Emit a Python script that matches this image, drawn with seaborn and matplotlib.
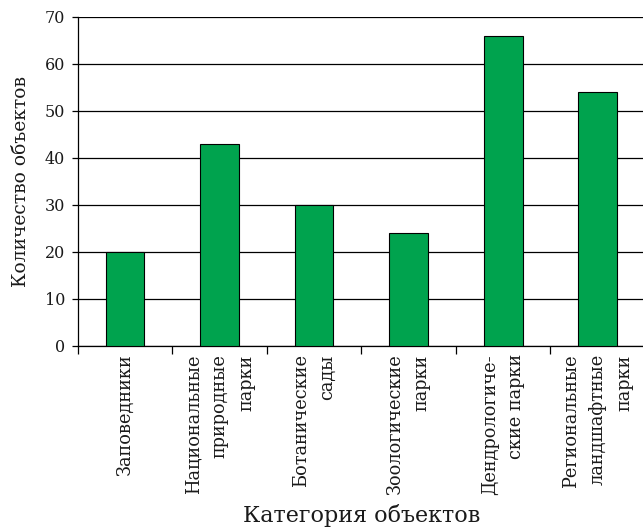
import matplotlib
matplotlib.use("Agg")
import matplotlib.pyplot as plt
from matplotlib.ticker import FixedLocator
import numpy as np
import seaborn as sns

# === data ===
CATEGORIES = [
    "Заповедники",
    "Национальные\nприродные\nпарки",
    "Ботанические\nсады",
    "Зоологические\nпарки",
    "Дендрологиче-\nские парки",
    "Региональные\nландшафтные\nпарки",
]
COUNTS = [20, 43, 30, 24, 66, 54]
Y_TICKS = [0, 10, 20, 30, 40, 50, 60, 70]

# === style ===
BAR_COLOR = "#00a34e"
TEXT_COLOR = "#1a1a1a"
FONT = ["DejaVu Serif"]

sns.set_theme(style="white")
plt.rcParams["font.family"] = FONT
plt.rcParams["text.color"] = TEXT_COLOR
plt.rcParams["axes.labelcolor"] = TEXT_COLOR
plt.rcParams["xtick.color"] = TEXT_COLOR
plt.rcParams["ytick.color"] = TEXT_COLOR

fig, ax = plt.subplots(figsize=(6.43, 5.28), dpi=100)
sns.barplot(x=CATEGORIES, y=COUNTS, color=BAR_COLOR, width=0.41,
            edgecolor="black", linewidth=0.8, saturation=1, ax=ax, zorder=3)

ax.set_ylim(0, 70)
ax.set_xlim(-0.5, 5.5)
ax.set_yticks(Y_TICKS)
ax.yaxis.grid(True, color="black", linewidth=0.9, zorder=0)
ax.set_axisbelow(True)

# ticks on the category boundaries
ax.xaxis.set_minor_locator(FixedLocator(np.arange(-0.5, 6.0, 1.0)))
ax.tick_params(axis="x", which="major", length=0, pad=6)
ax.tick_params(axis="x", which="minor", length=6, width=0.9, color="black", direction="out", bottom=True)
ax.tick_params(axis="y", length=4.5, width=0.9, color="black", direction="out", left=True,
               labelsize=11.5, pad=4.5)

for lbl in ax.get_xticklabels():
    lbl.set_rotation(90)
    lbl.set_fontsize(12.8)
    lbl.set_linespacing(1.6)
    lbl.set_multialignment("right")
    lbl.set_va("top")
    lbl.set_ha("center")

for spine in ["top", "right"]:
    ax.spines[spine].set_visible(False)
for spine in ["left", "bottom"]:
    ax.spines[spine].set_color("black")
    ax.spines[spine].set_linewidth(0.9)

ax.set_ylabel("Количество объектов", fontsize=13.5, labelpad=11)
ax.set_xlabel("Категория объектов", fontsize=16, va="center")
ax.xaxis.set_label_coords(0.5, -0.515)

plt.subplots_adjust(left=0.121, right=1.003, top=0.968, bottom=0.345)
fig.savefig("out.png", dpi=100)
